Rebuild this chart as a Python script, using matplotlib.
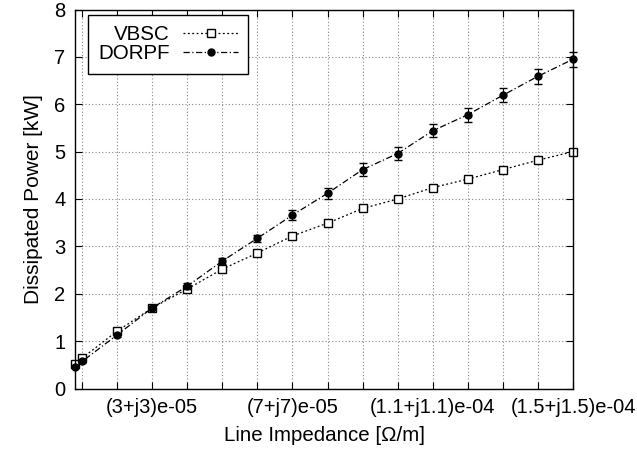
import matplotlib
matplotlib.use("Agg")
import matplotlib.pyplot as plt
from matplotlib.lines import Line2D

# Data (line impedance magnitude per unit, real = imag)
x_vals = [0.8e-5, 1e-5, 2e-5, 3e-5, 4e-5, 5e-5, 6e-5, 7e-5, 8e-5, 9e-5,
          10e-5, 11e-5, 12e-5, 13e-5, 14e-5, 15e-5]
vbsc = [0.52, 0.64, 1.21, 1.70, 2.10, 2.52, 2.86, 3.22, 3.49, 3.80,
        4.00, 4.24, 4.42, 4.62, 4.82, 5.00]
vbsc_err = [0.02] * 16
dorpf = [0.46, 0.57, 1.13, 1.70, 2.16, 2.69, 3.17, 3.66, 4.12, 4.62,
         4.96, 5.44, 5.78, 6.19, 6.59, 6.95]
dorpf_err = [0.03, 0.03, 0.04, 0.05, 0.06, 0.07, 0.08, 0.10, 0.12, 0.13,
             0.13, 0.14, 0.15, 0.15, 0.16, 0.16]
grid_x = [1e-5, 2e-5, 3e-5, 4e-5, 5e-5, 6e-5, 7e-5, 8e-5, 9e-5, 10e-5,
          11e-5, 12e-5, 13e-5, 14e-5, 15e-5]
label_x = [3e-5, 7e-5, 11e-5, 15e-5]
label_text = ["(3+j3)e-05", "(7+j7)e-05", "(1.1+j1.1)e-04", "(1.5+j1.5)e-04"]
y_ticks = [0, 1, 2, 3, 4, 5, 6, 7, 8]

plt.rcParams['font.family'] = ['Liberation Sans', 'DejaVu Sans']
FS = 14.5

fig = plt.figure(figsize=(6.37, 4.58), dpi=100)
ax = fig.add_axes([75/637, 1-388.5/458, (573-75)/637, (388.5-9.5)/458])

vb_style = dict(color='black', lw=0.9, linestyle=(0, (1.5, 2)), marker='s',
                markersize=6, markerfacecolor='white', markeredgecolor='black',
                markeredgewidth=1.0)
dp_style = dict(color='black', lw=0.9, linestyle=(0, (5, 2, 1, 2)), marker='o',
                markersize=5, markerfacecolor='black', markeredgecolor='black')

ax.errorbar(x_vals, vbsc, yerr=vbsc_err, capsize=3, elinewidth=0.8,
            clip_on=False, zorder=3, **vb_style)
ax.errorbar(x_vals, dorpf, yerr=dorpf_err, capsize=3, elinewidth=0.8,
            clip_on=False, zorder=4, **dp_style)

ax.set_xlim(0.8e-5, 15e-5)
ax.set_ylim(0, 8)

ax.set_xticks(grid_x)
ax.set_xticklabels([label_text[label_x.index(g)] if g in label_x else "" for g in grid_x])
ax.set_yticks(y_ticks)
ax.set_yticklabels([str(v) for v in y_ticks])

ax.tick_params(direction='in', length=5, width=0.8, top=True, right=True,
               labelsize=FS, pad=7)
ax.grid(True, color='#888888', linestyle=(0, (1, 2)), linewidth=0.8)
ax.set_axisbelow(True)
for s in ax.spines.values():
    s.set_linewidth(1.0)
    s.set_zorder(5)

ax.set_xlabel("Line Impedance [Ω/m]", fontsize=14.8, labelpad=6)
ax.set_ylabel("Dissipated Power [kW]", fontsize=15, labelpad=8)

handles = [Line2D([], [], **vb_style), Line2D([], [], **dp_style)]
leg = ax.legend(handles, ['VBSC', 'DORPF'], loc='upper left',
                bbox_to_anchor=(88/637, 1-15/458),
                bbox_transform=fig.transFigure, borderaxespad=0,
                markerfirst=False, fontsize=14.8, fancybox=False,
                edgecolor='black', framealpha=1, handlelength=2.65,
                handletextpad=0.65, labelspacing=0.0, borderpad=0.5)
leg.get_frame().set_linewidth(1.0)

fig.savefig("out.png", dpi=100)
